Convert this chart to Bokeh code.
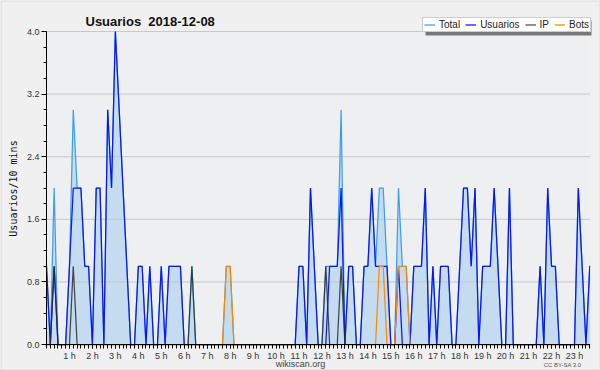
import math
from bokeh.plotting import figure
from bokeh.models import (Range1d, FixedTicker, Legend, LegendItem, Label, PrintfTickFormatter,
                          BoxAnnotation)
from bokeh.embed import file_html
from bokeh.resources import INLINE

# ---- data: one value every 10 minutes, 2018-12-08 ----
usuarios = [
    1, 0, 1, 0, 0, 0, 1, 2, 2, 2, 1, 1, 0, 2, 2, 0, 3, 2, 4, 3, 2, 1, 0, 0,
    1, 1, 0, 1, 0, 0, 1, 0, 1, 1, 1, 1, 0, 0, 0, 0, 0, 0, 0, 0, 0, 0, 0, 0,
    0, 0, 0, 0, 0, 0, 0, 0, 0, 0, 0, 0, 0, 0, 0, 0, 0, 0, 1, 1, 0, 2, 1, 0,
    0, 0, 1, 1, 1, 2, 0, 1, 1, 0, 0, 1, 1, 2, 1, 1, 1, 1, 0, 0, 1, 0, 0, 0,
    1, 1, 1, 2, 0, 1, 0, 1, 1, 1, 0, 0, 1, 2, 2, 1, 2, 0, 1, 1, 1, 2, 1, 0,
    0, 2, 0, 0, 0, 0, 0, 0, 0, 1, 0, 2, 1, 1, 0, 0, 0, 0, 0, 2, 1, 0, 1, 1,
]
ip = [
    0, 0, 1, 0, 0, 0, 0, 1, 0, 0, 0, 0, 0, 0, 0, 0, 0, 0, 0, 0, 0, 0, 0, 0,
    0, 0, 0, 0, 0, 0, 0, 0, 0, 0, 0, 0, 0, 0, 1, 0, 0, 0, 0, 0, 0, 0, 0, 0,
    0, 0, 0, 0, 0, 0, 0, 0, 0, 0, 0, 0, 0, 0, 0, 0, 0, 0, 0, 0, 0, 0, 0, 0,
    0, 1, 0, 0, 0, 1, 0, 0, 0, 0, 0, 0, 0, 0, 0, 0, 0, 0, 0, 0, 0, 0, 0, 0,
    0, 0, 0, 0, 0, 0, 0, 0, 0, 0, 0, 0, 0, 0, 0, 0, 0, 0, 0, 0, 0, 0, 0, 0,
    0, 0, 0, 0, 0, 0, 0, 0, 0, 0, 0, 0, 0, 0, 0, 0, 0, 0, 0, 0, 0, 0, 0, 0,
]
bots = [
    0, 0, 0, 0, 0, 0, 0, 0, 0, 0, 0, 0, 0, 0, 0, 0, 0, 0, 0, 0, 0, 0, 0, 0,
    0, 0, 0, 0, 0, 0, 0, 0, 0, 0, 0, 0, 0, 0, 0, 0, 0, 0, 0, 0, 0, 0, 0, 1,
    1, 0, 0, 0, 0, 0, 0, 0, 0, 0, 0, 0, 0, 0, 0, 0, 0, 0, 0, 0, 0, 0, 0, 0,
    0, 0, 0, 0, 0, 0, 0, 0, 0, 0, 0, 0, 0, 0, 0, 1, 1, 0, 0, 0, 1, 1, 1, 0,
    0, 0, 0, 0, 0, 0, 0, 0, 0, 0, 0, 0, 0, 0, 0, 0, 0, 0, 0, 0, 0, 0, 0, 0,
    0, 0, 0, 0, 0, 0, 0, 0, 0, 0, 0, 0, 0, 0, 0, 0, 0, 0, 0, 0, 0, 0, 0, 0,
]
total = [
    1, 0, 2, 0, 0, 0, 1, 3, 2, 2, 1, 1, 0, 2, 2, 0, 3, 2, 4, 3, 2, 1, 0, 0,
    1, 1, 0, 1, 0, 0, 1, 0, 1, 1, 1, 1, 0, 0, 1, 0, 0, 0, 0, 0, 0, 0, 0, 1,
    1, 0, 0, 0, 0, 0, 0, 0, 0, 0, 0, 0, 0, 0, 0, 0, 0, 0, 1, 1, 0, 2, 1, 0,
    0, 1, 1, 1, 1, 3, 0, 1, 1, 0, 0, 1, 1, 2, 1, 2, 2, 1, 0, 0, 2, 1, 1, 0,
    1, 1, 1, 2, 0, 1, 0, 1, 1, 1, 0, 0, 1, 2, 2, 1, 2, 0, 1, 1, 1, 2, 1, 0,
    0, 2, 0, 0, 0, 0, 0, 0, 0, 1, 0, 2, 1, 1, 0, 0, 0, 0, 0, 2, 1, 0, 1, 1,
]
slots = list(range(len(total)))  # 10-minute slot index

hours = [1, 2, 3, 4, 5, 6, 7, 8, 9, 10, 11, 12, 13, 14, 15, 16, 17, 18, 19, 20, 21, 22, 23]
hour_labels = ["1 h", "2 h", "3 h", "4 h", "5 h", "6 h", "7 h", "8 h", "9 h", "10 h", "11 h", "12 h",
               "13 h", "14 h", "15 h", "16 h", "17 h", "18 h", "19 h", "20 h", "21 h", "22 h", "23 h"]
y_ticks = [0.0, 0.8, 1.6, 2.4, 3.2, 4.0]

title_text = "Usuarios\u00a0 2018-12-08"
y_label = "Usuarios/10 mins"
series_names = ["Total", "Usuarios", "IP", "Bots"]

# ---- layout geometry (pixels) ----
W, H = 600, 370
X0_PX, PX_PER_SLOT = 46, 3.826          # slot 0 at x=46
Y0_PX, PX_PER_UNIT = 344, 78.25         # value 0 at y=344, 4.0 at y=31
X_END = 142.1                           # right edge of plotting area (slots)
Y_END = 4.0

x_range = Range1d(-X0_PX / PX_PER_SLOT, (W - X0_PX) / PX_PER_SLOT)
y_range = Range1d(-(H - Y0_PX) / PX_PER_UNIT, Y0_PX / PX_PER_UNIT)

OUTER = "#f0f0f0"
INNER = "#eeeff1"

p = figure(width=W, height=H, output_backend="svg", toolbar_location=None,
           x_range=x_range, y_range=y_range, min_border=0,
           background_fill_color=OUTER, border_fill_color=OUTER)
p.outline_line_color = None

# plotting-area background
p.add_layout(BoxAnnotation(left=0, right=X_END, bottom=0, top=Y_END, fill_color=INNER,
                           fill_alpha=1, line_color=None, level="underlay"))

# area + grid + lines
p.varea(x=slots, y1=0, y2=total, fill_color="#c5dcf0")
p.segment(x0=[0] * len(y_ticks), x1=[X_END] * len(y_ticks), y0=y_ticks, y1=y_ticks,
          line_color="#c4c4c4", line_width=1, line_alpha=0.9)
r_total = p.line(slots, total, line_color="#3d9ef2", line_width=1.25)
r_user = p.line(slots, usuarios, line_color="#0b16f7", line_width=1.25)
r_ip = p.line(slots, ip, line_color="#2b2b2b", line_width=1.25, line_alpha=0.85)
r_bots = p.line(slots, bots, line_color="#ff8a00", line_width=1.25)

# mask anything drawn right of the plotting area
p.add_layout(BoxAnnotation(left=X_END, fill_color=OUTER, fill_alpha=1, line_color=None))

# axes, pinned at data 0 so that they take no border space
p.grid.visible = False
p.yaxis.fixed_location = 0
p.xaxis.fixed_location = 0
p.yaxis.bounds = (0, Y_END)
p.xaxis.bounds = (0, X_END)
p.yaxis.ticker = FixedTicker(ticks=y_ticks, minor_ticks=[i * 0.2 for i in range(21)])
p.yaxis.formatter = PrintfTickFormatter(format="%.1f")
p.xaxis.ticker = FixedTicker(ticks=[h * 6 for h in hours], minor_ticks=slots[:143])
p.xaxis.major_label_overrides = {h * 6: lab for h, lab in zip(hours, hour_labels)}

for ax in (p.xaxis[0], p.yaxis[0]):
    ax.axis_line_color = "black"
    ax.major_tick_line_color = "black"
    ax.minor_tick_line_color = "black"
    ax.major_tick_in = 0
    ax.minor_tick_in = 0
    ax.major_label_text_font = "Liberation Sans"
    ax.major_label_text_font_size = "9px"
    ax.major_label_text_color = "#333333"

p.xaxis.major_tick_out = 4
p.xaxis.minor_tick_out = 4
p.xaxis.major_label_standoff = 2
p.yaxis.major_tick_out = 5
p.yaxis.minor_tick_out = 3
p.yaxis.major_label_standoff = 2

# texts
p.add_layout(Label(x=85, y=H - 21, x_units="screen", y_units="screen", text=title_text,
                   text_font="Liberation Sans", text_font_size="13px", text_font_style="bold",
                   text_color="#111111", text_baseline="alphabetic"))
p.add_layout(Label(x=13, y=H - 188, x_units="screen", y_units="screen", text=y_label,
                   angle=math.pi / 2, text_align="center", text_baseline="middle",
                   text_font="DejaVu Sans Mono", text_font_size="10px", text_color="#111111"))
p.add_layout(Label(x=300, y=H - 363, x_units="screen", y_units="screen", text="wikiscan.org",
                   text_align="center", text_baseline="alphabetic", text_font="Liberation Sans",
                   text_font_size="9px", text_color="#444444"))
p.add_layout(Label(x=581, y=H - 364, x_units="screen", y_units="screen", text="CC BY-SA 3.0",
                   text_align="right", text_baseline="alphabetic", text_font="Liberation Sans",
                   text_font_size="6px", text_color="#555555"))

# legend drop shadow (box) + legend
p.add_layout(BoxAnnotation(left=425, right=591, bottom=H - 35, top=H - 20,
                           left_units="screen", right_units="screen",
                           bottom_units="screen", top_units="screen",
                           fill_color="#777777", fill_alpha=1, line_color=None))

items = [LegendItem(label=n, renderers=[r]) for n, r in zip(series_names, [r_total, r_user, r_ip, r_bots])]
legend = Legend(items=items, location=(422, H - 32), orientation="horizontal",
                label_text_font="Liberation Sans", label_text_font_size="10px",
                label_height=11, glyph_height=11, glyph_width=11, label_standoff=4,
                label_width=0, spacing=5, padding=1, margin=0,
                background_fill_color="white", background_fill_alpha=1.0,
                border_line_color="#9a9a9a", label_text_color="#222222")
p.add_layout(legend)

# outer frame of the picture
p.add_layout(BoxAnnotation(fill_alpha=0, line_color="#a8a8a8", line_width=2))

open("out.html", "w").write(file_html(p, INLINE))
